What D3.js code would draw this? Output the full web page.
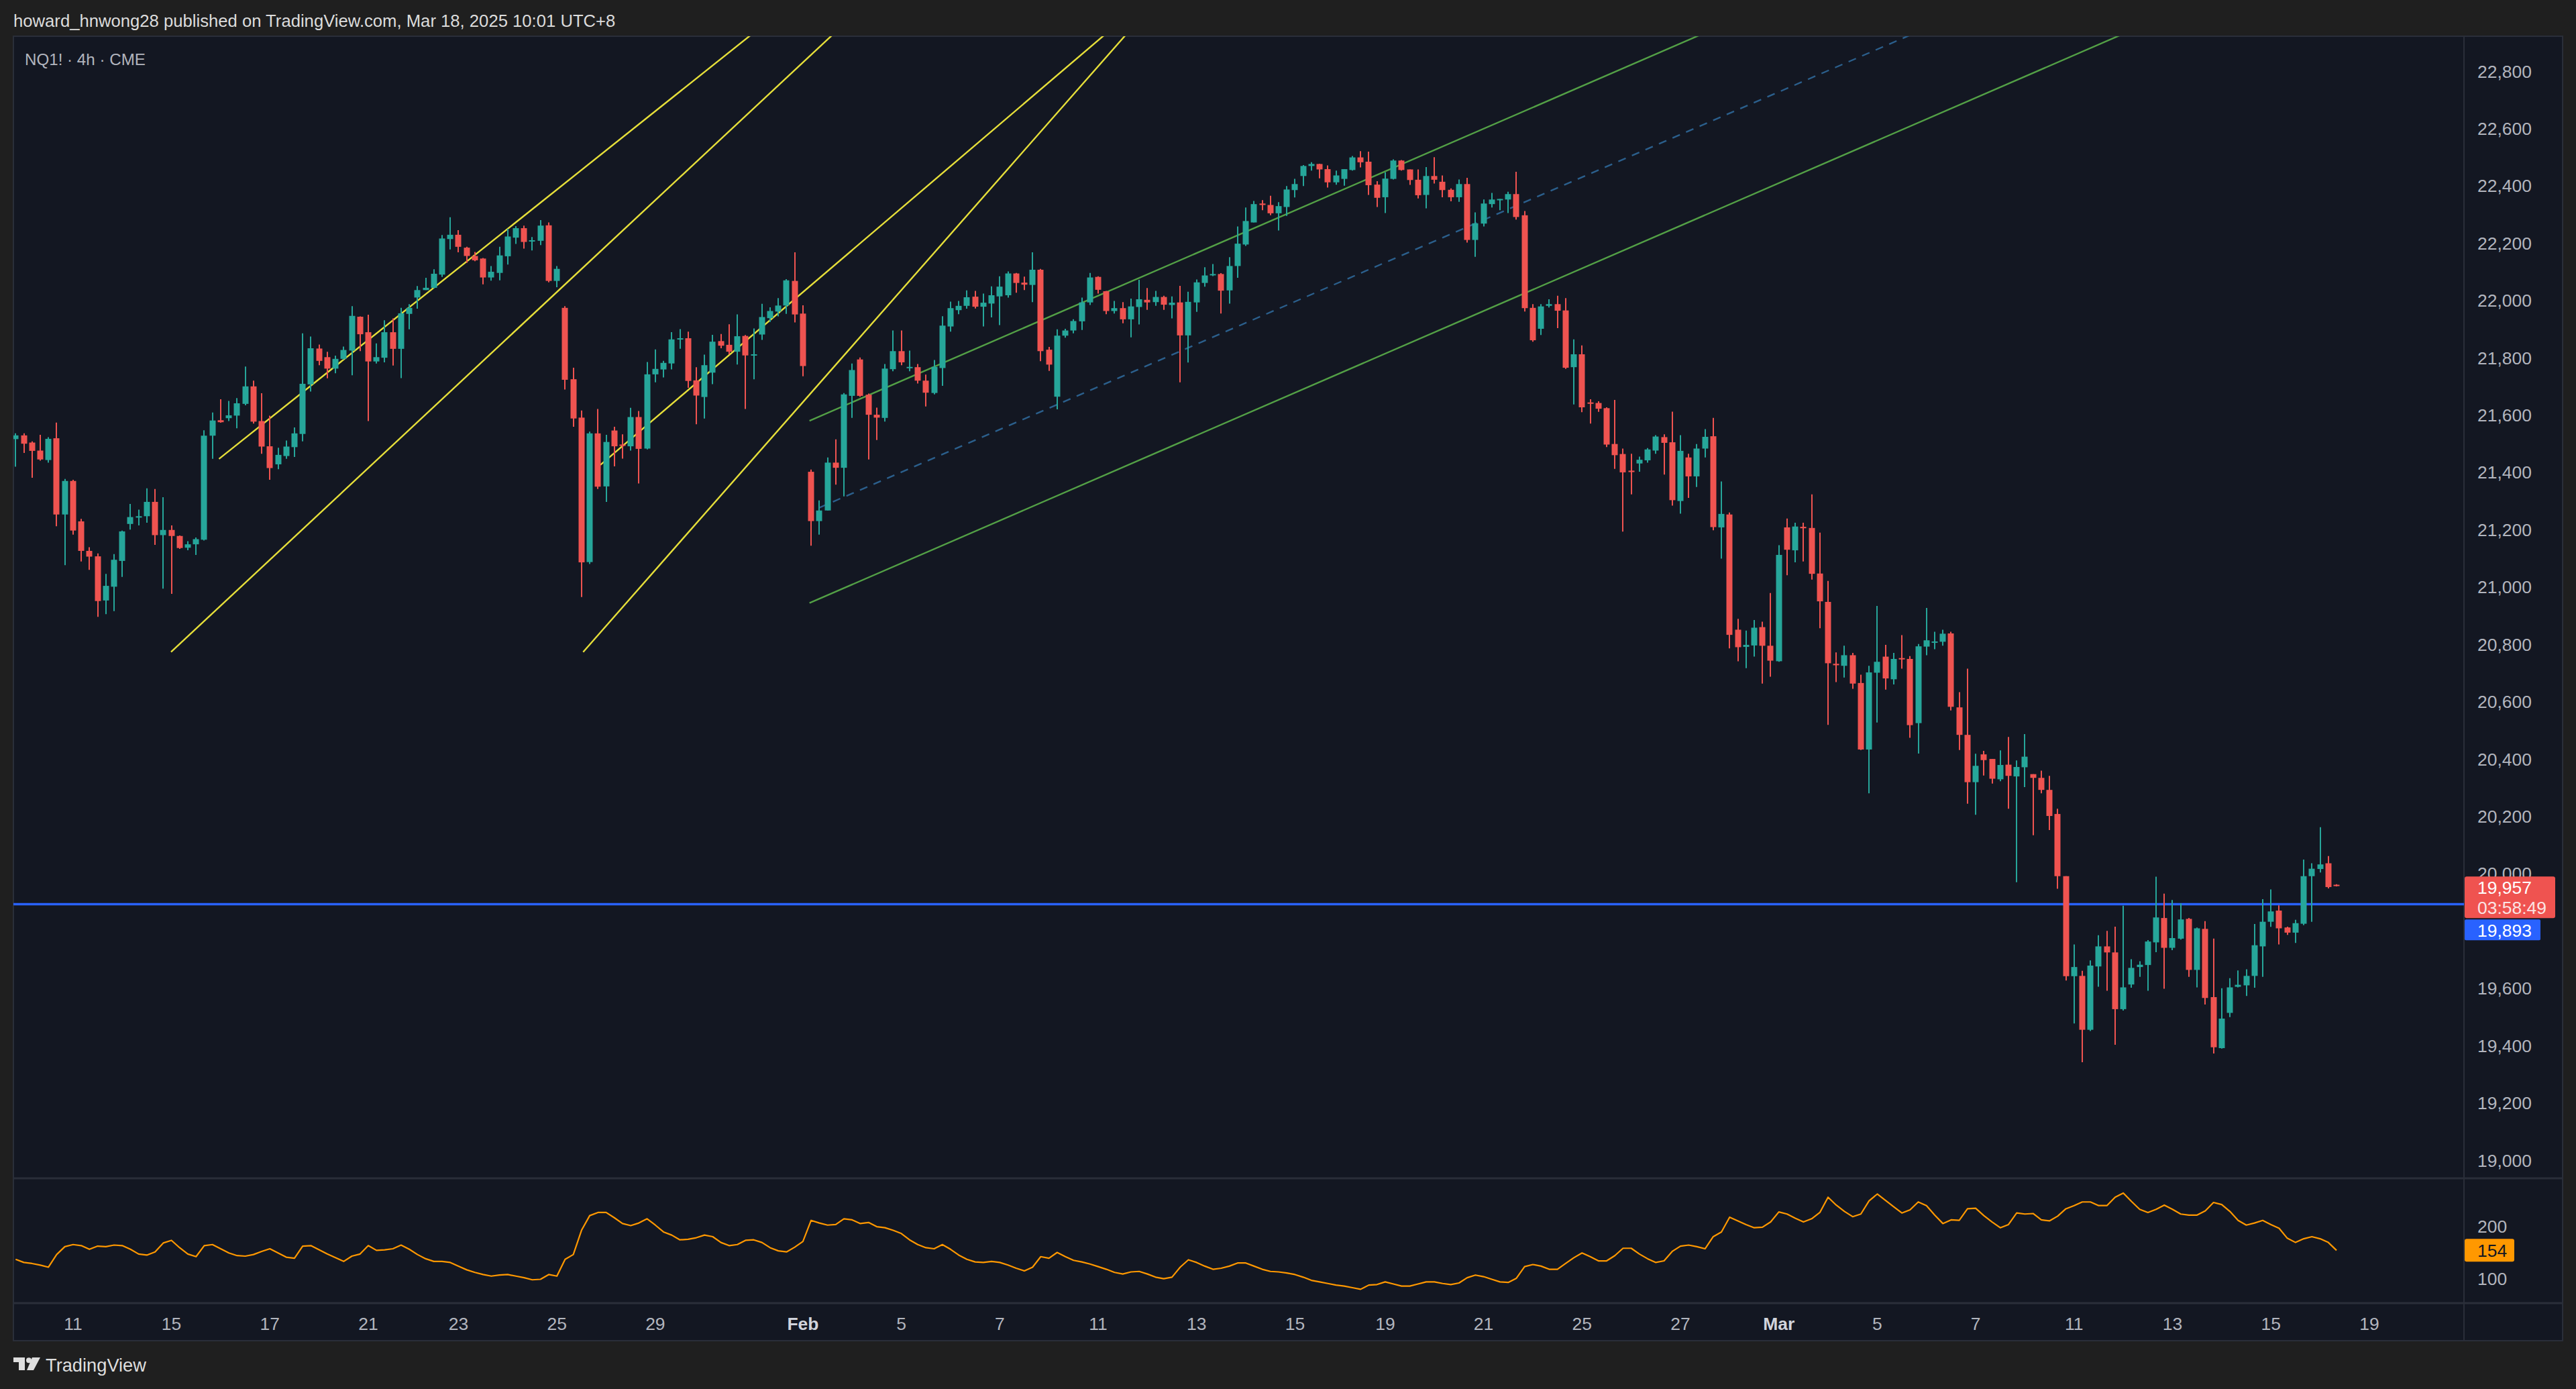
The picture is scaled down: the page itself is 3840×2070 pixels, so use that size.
<!DOCTYPE html>
<html><head><meta charset="utf-8">
<script src="https://cdn.jsdelivr.net/npm/d3@7/dist/d3.min.js"></script>
<style>
html,body{margin:0;padding:0;background:#1f1f1f;overflow:hidden;}
svg{display:block;}
text{font-family:"Liberation Sans",Arial,sans-serif;}
</style></head><body>
<svg id="c" width="3840" height="2070"></svg>
<script>
// ---------- DATA ----------
// 4h candles [open, high, low, close], in time order
const ohlc = [
[21516,21536,21420,21529],[21529,21536,21468,21500],[21504,21508,21381,21475],[21476,21531,21441,21445],[21443,21523,21434,21517],
[21519,21574,21212,21253],[21253,21377,21076,21370],[21370,21374,21183,21197],[21229,21238,21089,21126],[21126,21139,21060,21106],
[21107,21117,20896,20951],[20953,21046,20905,21004],[21001,21115,20916,21095],[21091,21197,21035,21194],[21220,21290,21200,21244],
[21242,21270,21215,21247],[21247,21344,21224,21297],[21297,21342,21147,21181],[21181,21313,20994,21199],[21199,21215,20976,21178],
[21178,21180,21133,21136],[21137,21160,21128,21149],[21149,21173,21112,21167],[21165,21547,21162,21528],[21528,21609,21447,21581],
[21582,21655,21573,21575],[21589,21649,21579,21599],[21598,21659,21554,21641],[21639,21769,21634,21700],[21700,21720,21570,21577],
[21579,21676,21465,21490],[21491,21598,21374,21415],[21428,21486,21411,21461],[21457,21511,21447,21490],[21488,21557,21454,21536],
[21534,21885,21508,21709],[21707,21874,21682,21833],[21832,21846,21774,21789],[21802,21821,21728,21762],[21762,21807,21746,21796],
[21796,21839,21793,21827],[21825,21980,21739,21946],[21943,21944,21823,21882],[21889,21950,21579,21787],[21787,21850,21780,21802],
[21800,21931,21784,21889],[21889,21937,21773,21831],[21831,21974,21729,21955],[21953,21987,21899,21974],[22010,22050,21971,22036],
[22036,22079,22036,22044],[22044,22109,22042,22093],[22090,22228,22082,22216],[22214,22290,22178,22229],[22229,22245,22168,22187],
[22184,22187,22131,22155],[22155,22169,22137,22140],[22146,22148,22056,22080],[22080,22120,22069,22100],[22096,22187,22070,22157],
[22154,22250,22125,22223],[22219,22259,22197,22252],[22252,22261,22181,22204],[22206,22221,22174,22210],[22208,22280,22193,22261],
[22262,22272,22063,22068],[22068,22120,22046,22110],[21974,21980,21689,21723],[21725,21765,21559,21588],[21591,21616,20965,21086],
[21087,21542,21080,21536],[21536,21621,21342,21350],[21351,21531,21297,21506],[21546,21559,21421,21491],[21497,21533,21448,21493],
[21491,21625,21476,21593],[21593,21614,21361,21482],[21483,21785,21480,21742],[21742,21829,21714,21761],[21759,21789,21731,21782],
[21780,21889,21759,21864],[21864,21900,21831,21868],[21868,21891,21695,21719],[21721,21767,21568,21668],[21663,21811,21588,21774],
[21748,21880,21708,21856],[21858,21883,21833,21842],[21845,21917,21812,21821],[21821,21951,21776,21875],[21876,21879,21621,21808],
[21809,21902,21725,21812],[21881,21988,21862,21942],[21938,21976,21925,21963],[21961,22008,21944,21982],[21982,22074,21953,22070],
[22068,22168,21923,21951],[21954,21983,21735,21771],[21402,21410,21144,21230],[21230,21302,21183,21267],[21267,21452,21267,21434],
[21434,21515,21357,21416],[21416,21677,21316,21672],[21667,21780,21590,21757],[21794,21801,21664,21667],[21671,21675,21445,21601],
[21601,21626,21513,21591],[21590,21778,21577,21762],[21760,21895,21753,21823],[21823,21895,21774,21784],[21764,21825,21753,21768],
[21767,21778,21710,21720],[21720,21741,21630,21678],[21677,21792,21672,21768],[21764,21945,21702,21912],[21909,21996,21891,21973],
[21966,21998,21952,21981],[21981,22035,21971,22011],[22013,22033,21972,21978],[21978,22024,21909,21992],[21989,22049,21941,22018],
[22014,22084,21914,22048],[22018,22101,22010,22094],[22094,22096,22027,22061],[22062,22083,22036,22055],[22054,22168,21994,22107],
[22107,22110,21788,21823],[21828,21838,21754,21776],[21664,21899,21620,21877],[21877,21901,21870,21895],[21895,21934,21885,21928],
[21927,22010,21897,21993],[21993,22096,21984,22080],[22082,22084,22024,22037],[22032,22033,21952,21963],[21963,21998,21954,21973],
[21973,21994,21920,21934],[21934,22006,21871,21979],[21977,22072,21916,22004],[22002,22043,21967,21993],[21994,22033,21981,22012],
[22012,22016,21967,21985],[21984,22014,21937,21992],[21993,22051,21714,21878],[21878,22030,21783,21995],[21993,22073,21960,22063],
[22061,22116,22048,22087],[22088,22127,22085,22092],[22092,22095,21954,22034],[22035,22151,21989,22120],[22120,22258,22079,22198],
[22195,22324,22190,22277],[22272,22347,22272,22336],[22338,22350,22315,22333],[22333,22365,22297,22304],[22304,22343,22244,22329],
[22326,22399,22295,22387],[22385,22424,22359,22406],[22434,22472,22399,22469],[22469,22482,22453,22476],[22476,22477,22426,22457],
[22458,22471,22394,22412],[22412,22453,22404,22436],[22424,22458,22400,22458],[22455,22504,22453,22499],[22499,22521,22464,22482],
[22484,22519,22368,22402],[22404,22416,22326,22358],[22360,22447,22305,22425],[22424,22492,22422,22488],[22488,22490,22453,22455],
[22457,22457,22403,22420],[22421,22457,22356,22367],[22368,22465,22321,22434],[22434,22500,22408,22421],[22414,22436,22360,22385],
[22386,22391,22346,22360],[22360,22422,22344,22406],[22406,22428,22202,22211],[22211,22307,22152,22269],[22268,22352,22258,22338],
[22336,22375,22324,22352],[22352,22354,22315,22354],[22352,22379,22305,22371],[22371,22449,22282,22291],[22297,22312,21961,21973],
[21974,21987,21856,21861],[21901,21987,21879,21979],[21981,22004,21975,21987],[21987,22016,21903,21964],[21965,22008,21761,21765],
[21767,21864,21637,21812],[21812,21843,21610,21627],[21644,21655,21570,21640],[21642,21648,21611,21622],[21624,21627,21488,21497],
[21499,21653,21412,21460],[21464,21483,21193,21400],[21406,21465,21323,21401],[21431,21455,21402,21444],[21442,21485,21434,21480],
[21476,21530,21465,21525],[21523,21533,21392,21503],[21505,21612,21284,21303],[21300,21530,21256,21475],[21452,21465,21311,21386],
[21386,21499,21349,21483],[21483,21551,21452,21524],[21526,21590,21198,21209],[21208,21368,21099,21255],[21253,21260,20786,20833],
[20851,20889,20741,20790],[20791,20848,20717,20798],[20796,20885,20757,20858],[20860,20879,20663,20795],[20795,20979,20687,20743],
[20741,21146,20739,21112],[21208,21239,21041,21130],[21128,21224,21086,21211],[21210,21224,21089,21205],[21206,21323,21026,21046],
[21047,21190,20856,20950],[20948,21021,20519,20734],[20732,20772,20668,20727],[20725,20795,20684,20762],[20762,20770,20645,20663],
[20665,20694,20431,20433],[20433,20725,20280,20702],[20701,20934,20527,20739],[20757,20798,20642,20681],[20678,20770,20660,20749],
[20752,20832,20715,20748],[20749,20759,20474,20518],[20525,20801,20419,20793],[20792,20927,20762,20814],[20806,20844,20783,20810],
[20809,20851,20795,20837],[20838,20844,20569,20582],[20580,20633,20431,20484],[20484,20715,20244,20319],[20319,20418,20205,20376],
[20416,20428,20342,20396],[20400,20400,20314,20331],[20329,20430,20322,20379],[20380,20477,20226,20341],[20339,20395,19970,20372],
[20371,20487,20302,20408],[20347,20347,20134,20334],[20334,20359,20280,20292],[20292,20341,20152,20201],[20208,20226,19947,19991],
[19991,19991,19627,19642],[19642,19753,19477,19674],[19643,19661,19342,19455],[19455,19697,19451,19679],[19676,19785,19605,19746],
[19746,19800,19591,19725],[19725,19815,19403,19527],[19527,19888,19522,19603],[19613,19701,19602,19671],[19674,19694,19640,19682],
[19681,19768,19591,19763],[19760,19989,19726,19847],[19845,19930,19598,19741],[19741,19908,19733,19775],[19773,19896,19770,19840],
[19842,19845,19640,19664],[19664,19812,19603,19809],[19807,19834,19543,19566],[19569,19773,19372,19394],[19391,19600,19389,19494],
[19514,19635,19499,19603],[19605,19662,19603,19612],[19610,19666,19573,19643],[19643,19824,19602,19750],[19746,19911,19640,19832],
[19832,19945,19814,19868],[19871,19889,19753,19809],[19812,19815,19786,19794],[19794,19839,19758,19827],[19825,20049,19820,19991],
[19991,20036,19832,20017],[20016,20162,20004,20032],[20036,20061,19948,19953],[19961,19963,19955,19957]
];

// lower-pane indicator value per bar
const indicator = [
137,131,129,126,122,146,161,165,163,156,162,161,164,163,156,147,145,151,168,173,
159,147,142,163,165,157,149,144,143,146,152,157,149,141,139,162,163,155,147,140,
133,143,147,163,154,155,157,164,156,146,138,133,133,131,124,117,112,108,105,107,
108,105,102,98,99,108,105,137,146,192,220,226,226,216,205,201,206,214,202,189,
183,174,175,178,183,180,169,163,165,173,174,169,159,153,151,160,171,211,206,202,
203,214,212,205,207,199,197,192,186,174,165,159,157,165,156,145,137,132,131,133,
131,126,120,115,122,142,139,150,142,135,132,128,123,118,112,109,113,114,109,103,
100,103,122,136,131,124,118,120,124,130,130,124,118,114,113,111,
108,103,97,94,91,88,86,83,80,88,89,94,90,86,86,90,94,94,91,89,
92,102,107,104,99,94,93,101,123,127,124,118,118,129,140,149,142,134,134,144,
158,158,147,138,131,134,152,162,164,161,157,180,189,217,210,203,197,198,208,227,
223,215,208,214,226,255,240,228,218,223,248,261,249,237,225,231,246,239,221,205,
212,211,233,234,220,208,197,203,225,223,224,212,210,219,233,239,246,246,239,239,
255,263,247,232,226,232,240,232,223,221,221,229,245,241,228,211,202,206,211,203,
196,177,169,176,180,176,169,154
];

// time axis: bar index and label
const timeTickIndex = [7,19,31,43,54,66,78,96,108,120,132,144,156,167,179,191,203,215,227,239,251,263,275,287];
const timeTickLabel = ["11","15","17","21","23","25","29","Feb","5","7","11","13","15","19","21","25","27","Mar","5","7","11","13","15","19"];
const boldLabels = ["Feb","Mar"];

// price scale labels (19,800 is hidden behind the line label in the reference)
const priceTicks = [19000,19200,19400,19600,20000,20200,20400,20600,20800,21000,21200,21400,21600,21800,22000,22200,22400,22600,22800];
const indicatorTicks = [100,200];

// drawings: rays [index1, price1, index2, price2]
const yellowRays = [
  [24.8,21447,47.6,21967],
  [18.95,20773,47.6,21538],
  [71.3,21426,95.35,22013],
  [69.2,20773,113.2,22205]
];
const channelUpper = [96.8,21580,205.05,22922];
const channelLowerStart = [96.8,20944];
const channelMidStart = 98;

const lastPrice = 19957, lastPriceTimer = "03:58:49";
const hLinePrice = 19893;
const lastIndicator = 154;

const headerText = "howard_hnwong28 published on TradingView.com, Mar 18, 2025 10:01 UTC+8";
const symbolText = "NQ1! · 4h · CME";

// ---------- LAYOUT ----------
const W=3840,H=2070;
const L=20, PR=3673, R=3820, T=54, PB=1756, IB=1942, B=1998;
const UP='#26a69a', DN='#ef5350';
const svg=d3.select('#c');
svg.append('rect').attr('width',W).attr('height',H).attr('fill','#1f1f1f');
svg.append('rect').attr('x',L).attr('y',T).attr('width',R-L).attr('height',B-T).attr('fill','#131722');

const defs=svg.append('defs');
defs.append('clipPath').attr('id','cp').append('rect').attr('x',L).attr('y',T).attr('width',PR-L).attr('height',PB-T);
defs.append('clipPath').attr('id','ci').append('rect').attr('x',L).attr('y',PB).attr('width',PR-L).attr('height',IB-PB);

const x=d3.scaleLinear().domain([0,283]).range([23.3,3483]);
const y=d3.scaleLinear().domain([19000,22800]).range([1729,106]);
const yi=d3.scaleLinear().domain([100,200]).range([1905.7,1827.3]);

// separators / frame
const sep='#2a2e39';
svg.append('line').attr('x1',PR).attr('x2',PR).attr('y1',T).attr('y2',B).attr('stroke',sep).attr('stroke-width',2);
svg.append('line').attr('x1',L).attr('x2',R).attr('y1',PB).attr('y2',PB).attr('stroke',sep).attr('stroke-width',3);
svg.append('line').attr('x1',L).attr('x2',R).attr('y1',IB).attr('y2',IB).attr('stroke',sep).attr('stroke-width',3);
svg.append('rect').attr('x',L).attr('y',T).attr('width',R-L).attr('height',B-T).attr('fill','none').attr('stroke',sep).attr('stroke-width',2);

// drawings
const gd=svg.append('g').attr('clip-path','url(#cp)');
const FAR=420;
function rayEnd(i1,p1,i2,p2){const s=(p2-p1)/(i2-i1);return [FAR,p1+s*(FAR-i1)];}
yellowRays.forEach(r=>{
  const e=rayEnd(...r);
  gd.append('line').attr('x1',x(r[0])).attr('y1',y(r[1])).attr('x2',x(e[0])).attr('y2',y(e[1]))
    .attr('stroke','#e6df3a').attr('stroke-width',2.4);
});
const cs=(channelUpper[3]-channelUpper[1])/(channelUpper[2]-channelUpper[0]);
const ue=rayEnd(...channelUpper);
gd.append('line').attr('x1',x(channelUpper[0])).attr('y1',y(channelUpper[1])).attr('x2',x(ue[0])).attr('y2',y(ue[1]))
  .attr('stroke','#53a046').attr('stroke-width',2.4);
const lo=channelLowerStart;
gd.append('line').attr('x1',x(lo[0])).attr('y1',y(lo[1])).attr('x2',x(FAR)).attr('y2',y(lo[1]+cs*(FAR-lo[0])))
  .attr('stroke','#53a046').attr('stroke-width',2.4);
const midAt=i=>((channelUpper[1]+cs*(i-channelUpper[0]))+(lo[1]+cs*(i-lo[0])))/2;
gd.append('line').attr('x1',x(channelMidStart)).attr('y1',y(midAt(channelMidStart))).attr('x2',x(FAR)).attr('y2',y(midAt(FAR)))
  .attr('stroke','#2b5f8c').attr('stroke-width',2.4).attr('stroke-dasharray','12,10');

// horizontal line
gd.append('line').attr('x1',L).attr('x2',PR).attr('y1',y(hLinePrice)).attr('y2',y(hLinePrice)).attr('stroke','#2962ff').attr('stroke-width',3.5);

// candles
const gc=svg.append('g').attr('clip-path','url(#cp)');
const bw=9;
const cg=gc.selectAll('g.c').data(ohlc).join('g').attr('class','c');
cg.append('line')
  .attr('x1',(d,i)=>Math.round(x(i))).attr('x2',(d,i)=>Math.round(x(i)))
  .attr('y1',d=>y(d[1])).attr('y2',d=>y(d[2]))
  .attr('stroke',d=>d[3]>=d[0]?UP:DN).attr('stroke-width',2);
cg.append('rect')
  .attr('x',(d,i)=>Math.round(x(i))-bw/2)
  .attr('y',d=>y(Math.max(d[0],d[3])))
  .attr('width',bw)
  .attr('height',d=>Math.max(2,y(Math.min(d[0],d[3]))-y(Math.max(d[0],d[3]))))
  .attr('fill',d=>d[3]>=d[0]?UP:DN);

// indicator
svg.append('g').attr('clip-path','url(#ci)').append('path').datum(indicator)
  .attr('d',d3.line().x((d,i)=>x(i)).y(d=>yi(d)))
  .attr('fill','none').attr('stroke','#ff9800').attr('stroke-width',2.2).attr('stroke-linejoin','round');

// axis text
const axCol='#b2b5be';
const probe=svg.append('text').attr('font-size',26).text('22,800');
const fs=26*81/probe.node().getComputedTextLength(); probe.remove();
svg.append('g').selectAll('text').data(priceTicks).join('text')
  .attr('x',3693).attr('y',d=>y(d)).attr('dy','0.36em').attr('font-size',fs).attr('fill',axCol)
  .text(d=>d3.format(',')(d));
svg.append('g').selectAll('text').data(indicatorTicks).join('text')
  .attr('x',3693).attr('y',d=>yi(d)).attr('dy','0.36em').attr('font-size',fs).attr('fill',axCol)
  .text(d=>d);
svg.append('g').selectAll('text').data(timeTickIndex).join('text')
  .attr('x',d=>x(d)).attr('y',1972).attr('dy','0.36em').attr('text-anchor','middle').attr('font-size',fs)
  .attr('fill',(d,i)=>boldLabels.includes(timeTickLabel[i])?'#d1d4dc':axCol)
  .attr('font-weight',(d,i)=>boldLabels.includes(timeTickLabel[i])?'bold':'normal')
  .text((d,i)=>timeTickLabel[i]);

// price labels
const yl=y(lastPrice);
svg.append('rect').attr('x',PR+1).attr('y',yl-14).attr('width',135).attr('height',62).attr('rx',3).attr('fill','#ef5350');
svg.append('text').attr('x',3693).attr('y',yl+2).attr('dy','0.36em').attr('font-size',fs).attr('fill','#ffffff').text(d3.format(',')(lastPrice));
svg.append('text').attr('x',3693).attr('y',yl+32).attr('dy','0.36em').attr('font-size',fs).attr('fill','#fbe3e3').text(lastPriceTimer);
svg.append('rect').attr('x',PR+1).attr('y',yl+50).attr('width',113).attr('height',31).attr('rx',2).attr('fill','#2962ff');
svg.append('text').attr('x',3693).attr('y',yl+66).attr('dy','0.36em').attr('font-size',fs).attr('fill','#ffffff').text(d3.format(',')(hLinePrice));
const yil=yi(lastIndicator);
svg.append('rect').attr('x',PR+1).attr('y',yil-17).attr('width',74).attr('height',34).attr('rx',3).attr('fill','#ff9800');
svg.append('text').attr('x',3693).attr('y',yil).attr('dy','0.36em').attr('font-size',fs).attr('fill','#131722').text(lastIndicator);

// header
function fit(t,target){const w=t.node().getComputedTextLength();t.attr('font-size',parseFloat(t.attr('font-size'))*target/w);}
const ht=svg.append('text').attr('x',20).attr('y',31).attr('dy','0.36em').attr('font-size',26).attr('fill','#dcdcdc').text(headerText);
fit(ht,898);
const st=svg.append('text').attr('x',37).attr('y',88).attr('dy','0.36em').attr('font-size',24).attr('fill','#b2b5be').text(symbolText);
fit(st,180);

// footer logo
const lg=svg.append('g').attr('transform','translate(20,2023)').attr('fill','#dedede');
lg.append('path').attr('d','M0,0 H17 V19 H8 V7 H0 Z');
lg.append('circle').attr('cx',23).attr('cy',4.2).attr('r',4);
lg.append('path').attr('d','M28,0 H40 L30,19 H20 Z');
const ft=svg.append('text').attr('x',68).attr('y',2034).attr('dy','0.36em').attr('font-size',26).attr('fill','#dedede').text('TradingView');
fit(ft,150);
</script>
</body></html>
